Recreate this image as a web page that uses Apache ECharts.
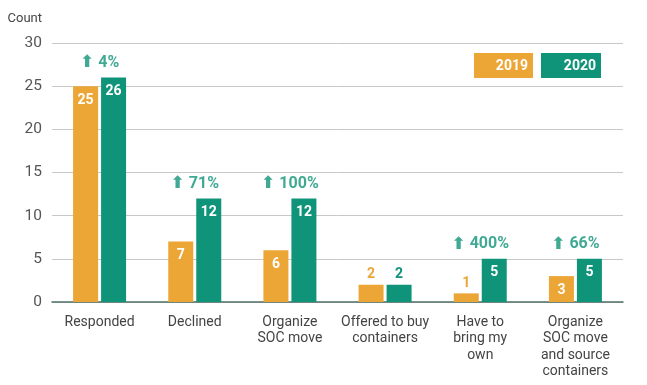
<!DOCTYPE html>
<html><head><meta charset="utf-8">
<script src="https://cdn.jsdelivr.net/npm/echarts@6/dist/echarts.min.js"></script>
<style>html,body{margin:0;padding:0;background:#fff}#c{width:647px;height:385px}</style>
</head><body><div id="c"></div>
<script>
const categories = ['Responded','Declined','Organize\nSOC move','Offered to buy\ncontainers','Have to\nbring my\nown','Organize\nSOC move\nand source\ncontainers'];
const values2019 = [25, 7, 6, 2, 1, 3];
const values2020 = [26, 12, 12, 2, 5, 5];
const changes = ['4%', '71%', '100%', '', '400%', '66%'];
const yTicks = {min: 0, max: 30, interval: 5};

const ORANGE = '#EBA636', GREEN = '#109479';
const font = 'Roboto, "Noto Sans", sans-serif';

function items(vals, color) {
  return vals.map(v => v <= 2 ? {value: v, label: {position: 'top', color: color, distance: 3}} : v);
}

const chart = echarts.init(document.getElementById('c'));
chart.setOption({
  animation: false,
  textStyle: {fontFamily: font},
  grid: {left: 52, right: 24, top: 43, bottom: 83},
  xAxis: {
    type: 'category', data: categories,
    axisTick: {show: false},
    axisLine: {lineStyle: {color: '#4f7268', width: 1.5}},
    axisLabel: {color: '#444', fontSize: 14, lineHeight: 16.5, margin: 12, interval: 0, fontFamily: font}
  },
  yAxis: {
    type: 'value', min: yTicks.min, max: yTicks.max, interval: yTicks.interval,
    name: 'Count', nameLocation: 'end', nameGap: 18,
    nameTextStyle: {color: '#444', fontSize: 13, align: 'right', padding: [0, 10, 0, 0]},
    axisLabel: {color: '#555', fontSize: 15.5, margin: 10},
    splitLine: {lineStyle: {color: '#c8c8c8'}}
  },
  series: [
    {name: '2019', type: 'bar', data: items(values2019, ORANGE), barWidth: 25, barGap: '12%',
     itemStyle: {color: ORANGE},
     label: {show: true, position: 'insideTop', color: '#fff', fontWeight: 'bold', fontSize: 14, distance: 7}},
    {name: '2020', type: 'bar', data: items(values2020, GREEN), barWidth: 25,
     itemStyle: {color: GREEN},
     label: {show: true, position: 'insideTop', color: '#fff', fontWeight: 'bold', fontSize: 14, distance: 7}},
    {type: 'scatter', data: values2020, symbolSize: 0, silent: true,
     label: {show: true, position: 'top', distance: 6, color: GREEN, fontWeight: 'bold', fontSize: 16,
       formatter: p => changes[p.dataIndex] ? '{a|⬆}' + changes[p.dataIndex] : '',
       rich: {a: {fontFamily: '"DejaVu Sans"', fontWeight: 'bold', fontSize: 17, color: GREEN, padding: [0, 4, 0, 0]}}}}
  ],
  graphic: [
    {type: 'group', left: 474, top: 53, children: [
      {type: 'rect', shape: {x: 0, y: 0, width: 59, height: 25}, style: {fill: ORANGE}},
      {type: 'text', style: {x: 54, y: 13, text: '2019', fill: '#fff', font: 'bold 14px ' + font, textAlign: 'right', textVerticalAlign: 'middle'}}
    ]},
    {type: 'group', left: 541, top: 53, children: [
      {type: 'rect', shape: {x: 0, y: 0, width: 60, height: 25}, style: {fill: GREEN}},
      {type: 'text', style: {x: 55, y: 13, text: '2020', fill: '#fff', font: 'bold 14px ' + font, textAlign: 'right', textVerticalAlign: 'middle'}}
    ]}
  ]
});
</script></body></html>
